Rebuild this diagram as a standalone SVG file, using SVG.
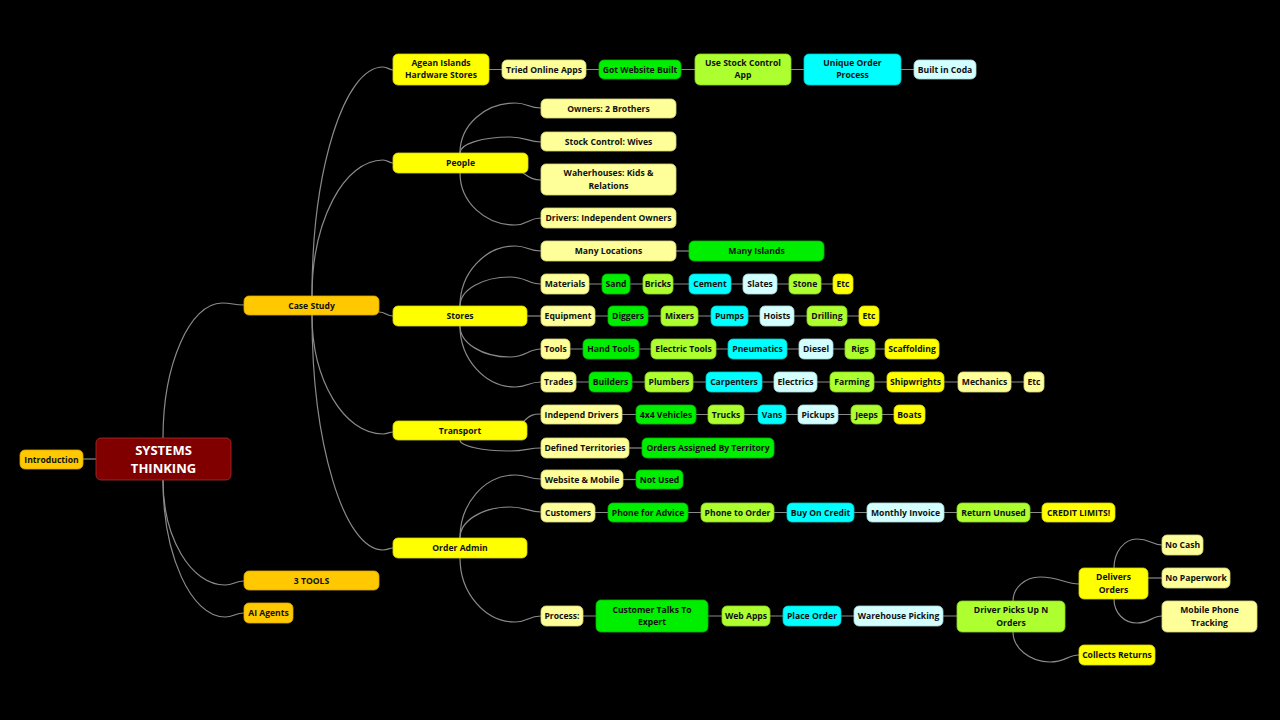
<svg xmlns="http://www.w3.org/2000/svg" width="1280" height="720" viewBox="0 0 1280 720">
<style>
.bg{fill:#000}
rect{stroke-width:0.8}
.gold{fill:#FFC800;stroke:#d9a800}
.yel{fill:#FFFF00;stroke:#d6d600}
.pale{fill:#FFFF99;stroke:#d6d67a}
.grn{fill:#00EE00;stroke:#00b800}
.yg{fill:#ADFF2F;stroke:#8ad120}
.cy{fill:#00FFFF;stroke:#00c8c8}
.lc{fill:#D4FFFF;stroke:#a8d8d8}
.root{fill:#800000;stroke:#a83030}
text{font-family:"Open Sans","Noto Sans","DejaVu Sans",sans-serif;font-weight:700;font-size:8.6px;fill:#111;text-anchor:middle}
.rt{font-size:13px;font-weight:700;fill:#fff}
#connectors path{fill:none;stroke:#8a8a8a;stroke-width:1.2}
</style>
<rect class="bg" x="0" y="0" width="1280" height="720"/>
<g id="connectors">
<path d="M83,459 L96,459"/>
<path d="M163,438 C163,364 190,303 222,303 C233,303 233,305 244,305"/>
<path d="M163,480 C163,538 191,585 225,585 C234,585 235,581 244,581"/>
<path d="M163,480 C163,555 191,617 225,617 C234,617 235,613 244,613"/>
<path d="M312,296 C312,170 344,67 383,67 C388,67 389,70 393,70"/>
<path d="M312,296 C312,221 344,160 383,160 C388,160 389,163 393,163"/>
<path d="M379,312 C386,312 386,316 393,316"/>
<path d="M312,315 C312,380 344,434 383,434 C388,434 389,432 393,432"/>
<path d="M312,315 C312,444 344,550 383,550 C388,550 389,548 393,548"/>
<path d="M489,69.5 L502,69.5 M586,69.5 L599,69.5 M681,69.5 L695,69.5 M791,69.5 L804,69.5 M901,69.5 L914,69.5"/>
<path d="M460,153 C460,125 485,103 515,103 C528,103 528,108 541,108"/>
<path d="M460,153 C460,144 482,137 510,137 C526,137 528,142 541,142"/>
<path d="M523,173 C530,178 534,180 541,180"/>
<path d="M460,173 C460,202 485,225 515,225 C528,225 528,218 541,218"/>
<path d="M460,306 C460,273 485,246 515,246 C528,246 528,251 541,251"/>
<path d="M460,306 C460,290 482,277 510,277 C526,277 528,284 541,284"/>
<path d="M527,316 L541,316"/>
<path d="M460,326 C460,343 482,357 510,357 C526,357 528,349 541,349"/>
<path d="M460,326 C460,359 485,387 515,387 C528,387 528,382 541,382"/>
<path d="M676,251 L689,251"/>
<path d="M589,284 L602,284 M630,284 L643,284 M673,284 L689,284 M731,284 L743,284 M777,284 L789,284 M821,284 L833,284"/>
<path d="M595,316 L608,316 M648,316 L661,316 M698,316 L711,316 M748,316 L760,316 M794,316 L807,316 M847,316 L859,316"/>
<path d="M570,349 L583,349 M639,349 L651,349 M716,349 L728,349 M787,349 L799,349 M833,349 L845,349 M875,349 L885,349"/>
<path d="M576,382 L589,382 M632,382 L645,382 M693,382 L706,382 M762,382 L774,382 M817,382 L830,382 M874,382 L887,382 M944,382 L958,382 M1011,382 L1024,382"/>
<path d="M523,422 C530,415 533,414 541,414"/>
<path d="M460,440 C460,446 482,451 510,451 C526,451 528,448 541,448"/>
<path d="M622,414.5 L636,414.5 M696,414.5 L708,414.5 M744,414.5 L758,414.5 M786,414.5 L798,414.5 M838,414.5 L851,414.5 M882,414.5 L894,414.5"/>
<path d="M629,448 L642,448"/>
<path d="M460,538 C460,503 485,475 515,475 C528,475 528,479 541,479"/>
<path d="M460,538 C460,521 482,507 510,507 C526,507 528,512 541,512"/>
<path d="M460,558 C460,593 485,622 515,622 C528,622 528,616 541,616"/>
<path d="M623,479.5 L636,479.5"/>
<path d="M595,512.5 L608,512.5 M688,512.5 L701,512.5 M774,512.5 L787,512.5 M854,512.5 L867,512.5 M944,512.5 L957,512.5 M1030,512.5 L1042,512.5"/>
<path d="M583,616 L596,616 M708,616 L722,616 M770,616 L783,616 M841,616 L854,616 M943,616 L957,616"/>
<path d="M1013,601 C1013,588 1025,577 1040,577 C1060,577 1065,584 1079,584"/>
<path d="M1013,632 C1013,648 1030,662 1050,662 C1065,662 1068,655 1079,655"/>
<path d="M1114,568 C1114,552 1124,539 1137,539 C1150,539 1152,545 1162,545"/>
<path d="M1148,578 L1162,578"/>
<path d="M1114,599 C1114,613 1124,623 1137,623 C1150,623 1152,616 1162,616"/>
</g>
<g id="root"><rect class="root" x="96" y="438" width="135" height="42" rx="5"/><text class="rt" x="163.5" y="454.5">SYSTEMS</text><text class="rt" x="163.5" y="472.5">THINKING</text></g>
<g id="introduction"><rect class="gold" x="20" y="450" width="63" height="19" rx="5"/><text x="51.5" y="462.5">Introduction</text></g>
<g id="case-study"><rect class="gold" x="244" y="296" width="135" height="19" rx="5"/><text x="311.5" y="308.5">Case Study</text></g>
<g id="three-tools"><rect class="gold" x="244" y="571" width="135" height="19" rx="5"/><text x="311.5" y="583.5">3 TOOLS</text></g>
<g id="ai-agents"><rect class="gold" x="244" y="603" width="49" height="20" rx="5"/><text x="268.5" y="616">AI Agents</text></g>

<g id="agean"><rect class="yel" x="393" y="54" width="96" height="31" rx="5"/><text x="441" y="66">Agean Islands</text><text x="441" y="78">Hardware Stores</text></g>
<g id="tried-apps"><rect class="pale" x="502" y="60" width="84" height="19" rx="5"/><text x="544" y="72.5">Tried Online Apps</text></g>
<g id="got-website"><rect class="grn" x="599" y="60" width="82" height="19" rx="5"/><text x="640" y="72.5">Got Website Built</text></g>
<g id="use-stock"><rect class="yg" x="695" y="54" width="96" height="31" rx="5"/><text x="743" y="66">Use Stock Control</text><text x="743" y="78">App</text></g>
<g id="unique-order"><rect class="cy" x="804" y="54" width="97" height="31" rx="5"/><text x="852.5" y="66">Unique Order</text><text x="852.5" y="78">Process</text></g>
<g id="built-coda"><rect class="lc" x="914" y="60" width="62" height="19" rx="5"/><text x="945" y="72.5">Built in Coda</text></g>

<g id="people"><rect class="yel" x="393" y="153" width="135" height="20" rx="5"/><text x="460.5" y="166">People</text></g>
<g id="owners"><rect class="pale" x="541" y="99" width="135" height="19" rx="5"/><text x="608.5" y="111.5">Owners: 2 Brothers</text></g>
<g id="stock-wives"><rect class="pale" x="541" y="132" width="135" height="19" rx="5"/><text x="608.5" y="144.5">Stock Control: Wives</text></g>
<g id="waherhouses"><rect class="pale" x="541" y="164" width="135" height="31" rx="5"/><text x="608.5" y="176">Waherhouses: Kids &amp;</text><text x="608.5" y="189">Relations</text></g>
<g id="drivers-owners"><rect class="pale" x="541" y="208" width="135" height="20" rx="5"/><text x="608.5" y="221">Drivers: Independent Owners</text></g>

<g id="stores"><rect class="yel" x="393" y="306" width="134" height="20" rx="5"/><text x="460" y="319">Stores</text></g>
<g id="many-locations"><rect class="pale" x="541" y="241" width="135" height="20" rx="5"/><text x="608.5" y="254">Many Locations</text></g>
<g id="many-islands"><rect class="grn" x="689" y="241" width="135" height="20" rx="5"/><text x="756.5" y="254">Many Islands</text></g>

<g id="materials"><rect class="pale" x="541" y="274" width="48" height="20" rx="5"/><text x="565" y="287">Materials</text></g>
<g id="sand"><rect class="grn" x="602" y="274" width="28" height="20" rx="5"/><text x="616" y="287">Sand</text></g>
<g id="bricks"><rect class="yg" x="643" y="274" width="30" height="20" rx="5"/><text x="658" y="287">Bricks</text></g>
<g id="cement"><rect class="cy" x="689" y="274" width="42" height="20" rx="5"/><text x="710" y="287">Cement</text></g>
<g id="slates"><rect class="lc" x="743" y="274" width="34" height="20" rx="5"/><text x="760" y="287">Slates</text></g>
<g id="stone"><rect class="yg" x="789" y="274" width="32" height="20" rx="5"/><text x="805" y="287">Stone</text></g>
<g id="etc-materials"><rect class="yel" x="833" y="274" width="20" height="20" rx="5"/><text x="843" y="287">Etc</text></g>

<g id="equipment"><rect class="pale" x="541" y="306" width="54" height="20" rx="5"/><text x="568" y="319">Equipment</text></g>
<g id="diggers"><rect class="grn" x="608" y="306" width="40" height="20" rx="5"/><text x="628" y="319">Diggers</text></g>
<g id="mixers"><rect class="yg" x="661" y="306" width="37" height="20" rx="5"/><text x="679.5" y="319">Mixers</text></g>
<g id="pumps"><rect class="cy" x="711" y="306" width="37" height="20" rx="5"/><text x="729.5" y="319">Pumps</text></g>
<g id="hoists"><rect class="lc" x="760" y="306" width="34" height="20" rx="5"/><text x="777" y="319">Hoists</text></g>
<g id="drilling"><rect class="yg" x="807" y="306" width="40" height="20" rx="5"/><text x="827" y="319">Drilling</text></g>
<g id="etc-equipment"><rect class="yel" x="859" y="306" width="20" height="20" rx="5"/><text x="869" y="319">Etc</text></g>

<g id="tools"><rect class="pale" x="541" y="339" width="29" height="20" rx="5"/><text x="555.5" y="352">Tools</text></g>
<g id="hand-tools"><rect class="grn" x="583" y="339" width="56" height="20" rx="5"/><text x="611" y="352">Hand Tools</text></g>
<g id="electric-tools"><rect class="yg" x="651" y="339" width="65" height="20" rx="5"/><text x="683.5" y="352">Electric Tools</text></g>
<g id="pneumatics"><rect class="cy" x="728" y="339" width="59" height="20" rx="5"/><text x="757.5" y="352">Pneumatics</text></g>
<g id="diesel"><rect class="lc" x="799" y="339" width="34" height="20" rx="5"/><text x="816" y="352">Diesel</text></g>
<g id="rigs"><rect class="yg" x="845" y="339" width="30" height="20" rx="5"/><text x="860" y="352">Rigs</text></g>
<g id="scaffolding"><rect class="yel" x="885" y="339" width="54" height="20" rx="5"/><text x="912" y="352">Scaffolding</text></g>

<g id="trades"><rect class="pale" x="541" y="372" width="35" height="20" rx="5"/><text x="558.5" y="385">Trades</text></g>
<g id="builders"><rect class="grn" x="589" y="372" width="43" height="20" rx="5"/><text x="610.5" y="385">Builders</text></g>
<g id="plumbers"><rect class="yg" x="645" y="372" width="48" height="20" rx="5"/><text x="669" y="385">Plumbers</text></g>
<g id="carpenters"><rect class="cy" x="706" y="372" width="56" height="20" rx="5"/><text x="734" y="385">Carpenters</text></g>
<g id="electrics"><rect class="lc" x="774" y="372" width="43" height="20" rx="5"/><text x="795.5" y="385">Electrics</text></g>
<g id="farming"><rect class="yg" x="830" y="372" width="44" height="20" rx="5"/><text x="852" y="385">Farming</text></g>
<g id="shipwrights"><rect class="yel" x="887" y="372" width="57" height="20" rx="5"/><text x="915.5" y="385">Shipwrights</text></g>
<g id="mechanics"><rect class="pale" x="958" y="372" width="53" height="20" rx="5"/><text x="984.5" y="385">Mechanics</text></g>
<g id="etc-trades"><rect class="pale" x="1024" y="372" width="20" height="20" rx="5"/><text x="1034" y="385">Etc</text></g>

<g id="transport"><rect class="yel" x="393" y="421" width="134" height="19" rx="5"/><text x="460" y="433.5">Transport</text></g>
<g id="independ-drivers"><rect class="pale" x="541" y="405" width="81" height="19" rx="5"/><text x="581.5" y="417.5">Independ Drivers</text></g>
<g id="vehicles-4x4"><rect class="grn" x="636" y="405" width="60" height="19" rx="5"/><text x="666" y="417.5">4x4 Vehicles</text></g>
<g id="trucks"><rect class="yg" x="708" y="405" width="36" height="19" rx="5"/><text x="726" y="417.5">Trucks</text></g>
<g id="vans"><rect class="cy" x="758" y="405" width="28" height="19" rx="5"/><text x="772" y="417.5">Vans</text></g>
<g id="pickups"><rect class="lc" x="798" y="405" width="40" height="19" rx="5"/><text x="818" y="417.5">Pickups</text></g>
<g id="jeeps"><rect class="yg" x="851" y="405" width="31" height="19" rx="5"/><text x="866.5" y="417.5">Jeeps</text></g>
<g id="boats"><rect class="yel" x="894" y="405" width="31" height="19" rx="5"/><text x="909.5" y="417.5">Boats</text></g>
<g id="defined-territories"><rect class="pale" x="541" y="438" width="88" height="20" rx="5"/><text x="585" y="451">Defined Territories</text></g>
<g id="orders-assigned"><rect class="grn" x="642" y="438" width="132" height="20" rx="5"/><text x="708" y="451">Orders Assigned By Territory</text></g>

<g id="order-admin"><rect class="yel" x="393" y="538" width="134" height="20" rx="5"/><text x="460" y="551">Order Admin</text></g>
<g id="website-mobile"><rect class="pale" x="541" y="470" width="82" height="19" rx="5"/><text x="582" y="482.5">Website &amp; Mobile</text></g>
<g id="not-used"><rect class="grn" x="636" y="470" width="47" height="19" rx="5"/><text x="659.5" y="482.5">Not Used</text></g>
<g id="customers"><rect class="pale" x="541" y="503" width="54" height="19" rx="5"/><text x="568" y="515.5">Customers</text></g>
<g id="phone-advice"><rect class="grn" x="608" y="503" width="80" height="19" rx="5"/><text x="648" y="515.5">Phone for Advice</text></g>
<g id="phone-order"><rect class="yg" x="701" y="503" width="73" height="19" rx="5"/><text x="737.5" y="515.5">Phone to Order</text></g>
<g id="buy-credit"><rect class="cy" x="787" y="503" width="67" height="19" rx="5"/><text x="820.5" y="515.5">Buy On Credit</text></g>
<g id="monthly-invoice"><rect class="lc" x="867" y="503" width="77" height="19" rx="5"/><text x="905.5" y="515.5">Monthly Invoice</text></g>
<g id="return-unused"><rect class="yg" x="957" y="503" width="73" height="19" rx="5"/><text x="993.5" y="515.5">Return Unused</text></g>
<g id="credit-limits"><rect class="yel" x="1042" y="503" width="73" height="19" rx="5"/><text x="1078.5" y="515.5">CREDIT LIMITS!</text></g>

<g id="process"><rect class="pale" x="541" y="606" width="42" height="20" rx="5"/><text x="562" y="619">Process:</text></g>
<g id="customer-talks"><rect class="grn" x="596" y="600" width="112" height="32" rx="5"/><text x="652" y="612.5">Customer Talks To</text><text x="652" y="625">Expert</text></g>
<g id="web-apps"><rect class="yg" x="722" y="606" width="48" height="20" rx="5"/><text x="746" y="619">Web Apps</text></g>
<g id="place-order"><rect class="cy" x="783" y="606" width="58" height="20" rx="5"/><text x="812" y="619">Place Order</text></g>
<g id="warehouse-picking"><rect class="lc" x="854" y="606" width="89" height="20" rx="5"/><text x="898.5" y="619">Warehouse Picking</text></g>
<g id="driver-picks"><rect class="yg" x="957" y="601" width="108" height="31" rx="5"/><text x="1011" y="613">Driver Picks Up N</text><text x="1011" y="625.5">Orders</text></g>
<g id="delivers-orders"><rect class="yel" x="1079" y="568" width="69" height="31" rx="5"/><text x="1113.5" y="580">Delivers</text><text x="1113.5" y="592.5">Orders</text></g>
<g id="no-cash"><rect class="pale" x="1162" y="535" width="41" height="20" rx="5"/><text x="1182.5" y="548">No Cash</text></g>
<g id="no-paperwork"><rect class="pale" x="1162" y="568" width="68" height="20" rx="5"/><text x="1196" y="581">No Paperwork</text></g>
<g id="mobile-tracking"><rect class="pale" x="1162" y="601" width="95" height="31" rx="5"/><text x="1209.5" y="613">Mobile Phone</text><text x="1209.5" y="625.5">Tracking</text></g>
<g id="collects-returns"><rect class="yel" x="1079" y="645" width="76" height="20" rx="5"/><text x="1117" y="658">Collects Returns</text></g>
</svg>
